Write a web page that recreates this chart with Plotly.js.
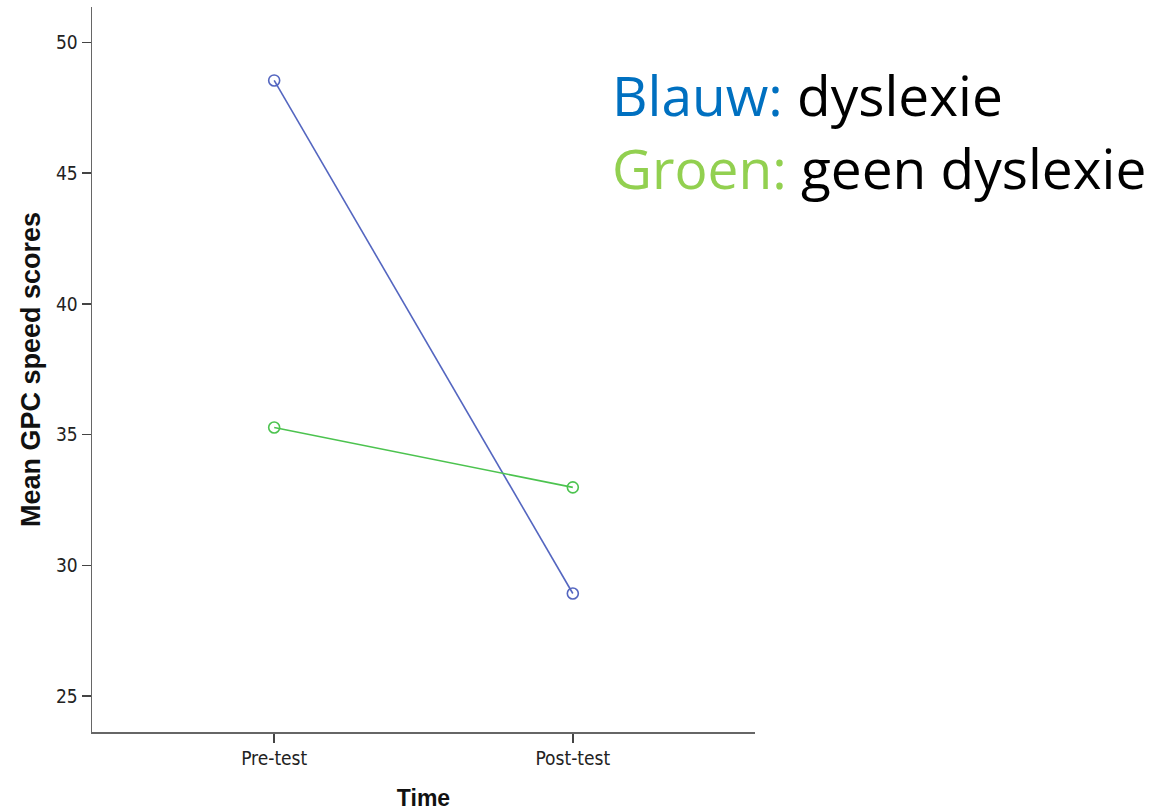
<!DOCTYPE html>
<html>
<head>
<meta charset="utf-8">
<script src="https://cdn.plot.ly/plotly-3.0.1.min.js"></script>
<style>html,body{margin:0;padding:0;background:#fff;}#chart{width:1171px;height:811px;}</style>
</head>
<body>
<div id="chart"></div>
<script>
const timepoints = ["Pre-test", "Post-test"];
const dyslexia = [48.55, 28.92];
const noDyslexia = [35.27, 32.98];
const yTicks = [25, 30, 35, 40, 45, 50];

const tickFont = {family: "Liberation Sans Narrow, DejaVu Sans Condensed, Arial Narrow, sans-serif", size: 19, color: "#222"};

const traces = [
  {x: timepoints, y: dyslexia, type: "scatter", mode: "lines+markers", name: "dyslexie",
   line: {color: "#5466c0", width: 1.6},
   marker: {symbol: "circle-open", size: 11, color: "#5466c0", line: {width: 1.6}}},
  {x: timepoints, y: noDyslexia, type: "scatter", mode: "lines+markers", name: "geen dyslexie",
   line: {color: "#4cc34f", width: 1.6},
   marker: {symbol: "circle-open", size: 11, color: "#4cc34f", line: {width: 1.6}}}
];

const layout = {
  width: 1171, height: 811,
  margin: {l: 92, r: 416, t: 7, b: 79},
  paper_bgcolor: "#fff", plot_bgcolor: "#fff",
  showlegend: false,
  font: {family: "Liberation Sans, Arial, sans-serif", color: "#222"},
  xaxis: {
    type: "category", range: [-0.61, 1.61],
    showline: true, linecolor: "#666", linewidth: 1.5, mirror: false,
    showgrid: false, zeroline: false,
    ticks: "outside", ticklen: 9, tickwidth: 1.5, tickcolor: "#444",
    tickfont: tickFont,
    title: {text: "<b>Time</b>", font: {family: "Liberation Sans, Arial, sans-serif", size: 23, color: "#111"}, standoff: 23}
  },
  yaxis: {
    range: [23.62, 51.36], tickvals: yTicks,
    showline: true, linecolor: "#666", linewidth: 1.5,
    showgrid: false, zeroline: false,
    ticks: "outside", ticklen: 9, tickwidth: 1.5, tickcolor: "#444",
    tickfont: tickFont,
    title: {text: "<b>Mean GPC speed scores</b>", font: {family: "Liberation Sans, Arial, sans-serif", size: 27, color: "#111"}, standoff: 7}
  },
  annotations: [
    {xref: "paper", yref: "paper", x: 1.0, y: 0.880, xanchor: "left", yanchor: "middle", xshift: -145,
     showarrow: false, align: "left",
     text: '<span style="color:#0070c0">Blauw:</span> dyslexie',
     font: {family: "Open Sans, Lato, sans-serif", size: 55, color: "#000"}},
    {xref: "paper", yref: "paper", x: 1.0, y: 0.779, xanchor: "left", yanchor: "middle", xshift: -145,
     showarrow: false, align: "left",
     text: '<span style="color:#92d050">Groen:</span> geen dyslexie',
     font: {family: "Open Sans, Lato, sans-serif", size: 55, color: "#000"}}
  ]
};

Plotly.newPlot("chart", traces, layout, {displayModeBar: false, staticPlot: true});
</script>
</body>
</html>
